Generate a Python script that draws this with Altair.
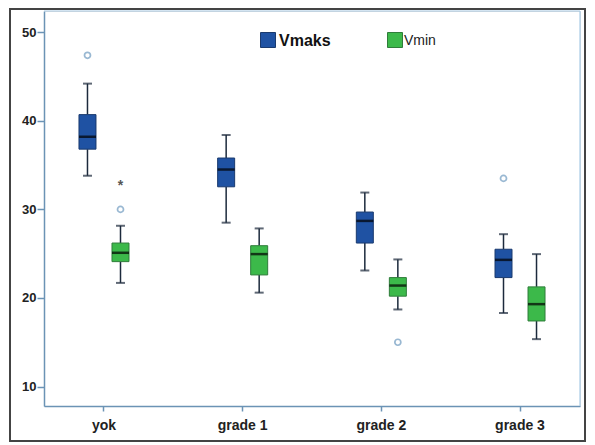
import altair as alt
import pandas as pd

categories = ["yok", "grade 1", "grade 2", "grade 3"]
groups = ["Vmaks", "Vmin"]

# Vmaks stats per category
vmaks_low = [33.8, 28.5, 23.1, 18.3]
vmaks_q1 = [36.8, 32.55, 26.2, 22.3]
vmaks_med = [38.2, 34.5, 28.7, 24.3]
vmaks_q3 = [40.7, 35.8, 29.7, 25.5]
vmaks_high = [44.2, 38.4, 31.9, 27.2]

# Vmin stats per category
vmin_low = [21.7, 20.6, 18.7, 15.35]
vmin_q1 = [24.1, 22.6, 20.2, 17.4]
vmin_med = [25.1, 24.95, 21.4, 19.3]
vmin_q3 = [26.2, 25.9, 22.3, 21.25]
vmin_high = [28.15, 27.85, 24.35, 24.95]

# outliers
out_cat = ["yok", "yok", "yok", "grade 2", "grade 3"]
out_group = ["Vmaks", "Vmin", "Vmin", "Vmin", "Vmaks"]
out_value = [47.4, 30.0, 33.0, 15.0, 33.5]
out_kind = ["o", "o", "*", "o", "o"]

rows = []
for i, c in enumerate(categories):
    rows.append(dict(cat=c, group="Vmaks", lo=vmaks_low[i], q1=vmaks_q1[i],
                     med=vmaks_med[i], q3=vmaks_q3[i], hi=vmaks_high[i]))
    rows.append(dict(cat=c, group="Vmin", lo=vmin_low[i], q1=vmin_q1[i],
                     med=vmin_med[i], q3=vmin_q3[i], hi=vmin_high[i]))
box_df = pd.DataFrame(rows)
out_df = pd.DataFrame(dict(cat=out_cat, group=out_group, value=out_value, kind=out_kind))

FILL = ["#1f52a3", "#3cb94a"]
EDGE = ["#1a3a6e", "#2f7d3a"]
AXC = "#6b93b5"
W, H = 536, 395

xenc = alt.X("cat:N", sort=categories, title=None,
             scale=alt.Scale(paddingInner=0.3, paddingOuter=0.0826),
             axis=alt.Axis(labelAngle=0, labelFont="Liberation Sans", labelFontWeight="bold",
                           labelFontSize=14, labelColor="#222222", tickSize=5,
                           labelPadding=7, tickColor=AXC, domainColor=AXC, domainWidth=1.5,
                           tickWidth=1.5))
xoff = alt.XOffset("group:N", sort=groups,
                   scale=alt.Scale(paddingInner=0, paddingOuter=0.47))
yscale = alt.Scale(domain=[7.8, 52.4], nice=False, zero=False)
yaxis = alt.Axis(values=[10, 20, 30, 40, 50], grid=False, labelFont="Liberation Sans",
                 labelFontWeight="bold", labelFontSize=13, labelColor="#222222",
                 tickSize=7, labelPadding=1, tickColor=AXC, domainColor=AXC,
                 domainWidth=1.5, tickWidth=1.5)
color = alt.Color("group:N", scale=alt.Scale(domain=groups, range=FILL), legend=None)
stroke = alt.Stroke("group:N", scale=alt.Scale(domain=groups, range=EDGE), legend=None)

base = alt.Chart(box_df)

wlo = base.mark_rule(color="#1c2a3c", strokeWidth=1.5).encode(
    x=xenc, xOffset=xoff, y=alt.Y("lo:Q", scale=yscale, axis=yaxis, title=None), y2="q1:Q")
whi = base.mark_rule(color="#1c2a3c", strokeWidth=1.5).encode(
    x=xenc, xOffset=xoff, y=alt.Y("q3:Q", scale=yscale), y2="hi:Q")
caplo = base.mark_tick(color="#1c2a3c", size=9, thickness=2).encode(
    x=xenc, xOffset=xoff, y=alt.Y("lo:Q", scale=yscale))
caphi = base.mark_tick(color="#1c2a3c", size=9, thickness=2).encode(
    x=xenc, xOffset=xoff, y=alt.Y("hi:Q", scale=yscale))
box = base.mark_bar(size=17, strokeWidth=1).encode(
    x=xenc, xOffset=xoff, y=alt.Y("q1:Q", scale=yscale), y2="q3:Q",
    color=color, stroke=stroke)
med = base.mark_tick(color="#000000", size=17, thickness=2.5).encode(
    x=xenc, xOffset=xoff, y=alt.Y("med:Q", scale=yscale))

outs = alt.Chart(out_df).transform_filter(alt.datum.kind == "o").mark_point(
    shape="circle", filled=False, color="#6f9bc0", size=36, strokeWidth=1.7).encode(
    x=xenc, xOffset=xoff, y=alt.Y("value:Q", scale=yscale))
stars = alt.Chart(out_df).transform_filter(alt.datum.kind == "*").mark_text(
    text="*", fontSize=14, fontWeight="bold", color="#555555", dy=3,
    font="Liberation Sans").encode(
    x=xenc, xOffset=xoff, y=alt.Y("value:Q", scale=yscale))

one = pd.DataFrame({"a": [0]})
frame = alt.Chart(one).mark_rect(filled=False, stroke="#444444", strokeWidth=2).encode(
    x=alt.value(-34), x2=alt.value(541), y=alt.value(-2), y2=alt.value(430))
topline = alt.Chart(one).mark_rule(color="#a9cce6", strokeWidth=1.2).encode(
    x=alt.value(0), x2=alt.value(W), y=alt.value(0))
rightline = alt.Chart(one).mark_rule(color="#a9cce6", strokeWidth=1.2).encode(
    x=alt.value(W), y=alt.value(0), y2=alt.value(H))

leg1 = alt.Chart(one).mark_square(size=225, color=FILL[0], stroke=EDGE[0], strokeWidth=1,
                                   opacity=1).encode(x=alt.value(224), y=alt.value(29))
leg1t = alt.Chart(one).mark_text(text="Vmaks", align="left", baseline="middle",
                                 font="Liberation Sans", fontWeight="bold", fontSize=16,
                                 color="#111111").encode(x=alt.value(235), y=alt.value(30))
leg2 = alt.Chart(one).mark_square(size=225, color=FILL[1], stroke=EDGE[1], strokeWidth=1,
                                   opacity=1).encode(x=alt.value(351), y=alt.value(29))
leg2t = alt.Chart(one).mark_text(text="Vmin", align="left", baseline="middle",
                                 font="Liberation Sans", fontSize=14,
                                 color="#222222").encode(x=alt.value(360), y=alt.value(30))

chart = alt.layer(frame, topline, rightline, wlo, whi, caplo, caphi, box, med, outs, stars,
                  leg1, leg1t, leg2, leg2t).properties(
    width=W, height=H,
    autosize=alt.AutoSizeParams(type="none"),
    padding={"left": 36, "top": 3, "right": 7, "bottom": 36},
).configure_view(stroke=None).configure(background="white")

chart.save("out.html", embed_options={"renderer": "svg", "actions": False})
